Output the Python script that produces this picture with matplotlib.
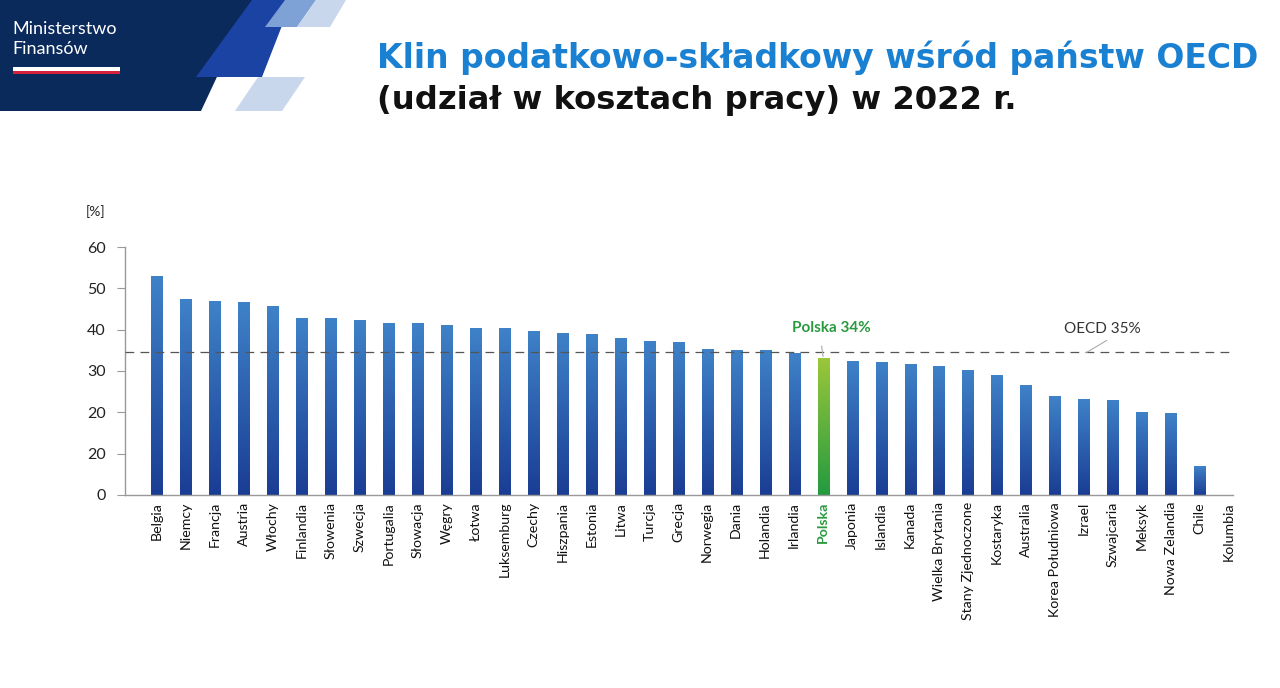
import numpy as np
import matplotlib
matplotlib.use("Agg")
import matplotlib.pyplot as plt
from matplotlib.patches import Polygon
from matplotlib.colors import LinearSegmentedColormap

countries = ["Belgia", "Niemcy", "Francja", "Austria", "Włochy", "Finlandia", "Słowenia",
             "Szwecja", "Portugalia", "Słowacja", "Węgry", "Łotwa", "Luksemburg", "Czechy",
             "Hiszpania", "Estonia", "Litwa", "Turcja", "Grecja", "Norwegia", "Dania",
             "Holandia", "Irlandia", "Polska", "Japonia", "Islandia", "Kanada",
             "Wielka Brytania", "Stany Zjednoczone", "Kostaryka", "Australia",
             "Korea Południowa", "Izrael", "Szwajcaria", "Meksyk", "Nowa Zelandia",
             "Chile", "Kolumbia"]
wedge = [52.9, 47.5, 46.9, 46.6, 45.7, 42.9, 42.8, 42.3, 41.7, 41.6, 41.1, 40.4, 40.3,
         39.7, 39.3, 38.9, 38.1, 37.3, 37.0, 35.4, 35.1, 35.1, 34.3, 33.2, 32.3, 32.2,
         31.7, 31.3, 30.2, 29.0, 26.6, 23.9, 23.2, 23.1, 20.2, 19.8, 6.9, 0.0]
oecd_avg = 34.5
yticks = [0, 10, 20, 30, 40, 50, 60]
ytick_labels = ["0", "20", "20", "30", "40", "50", "60"]  # as printed in the source

W, H = 1280, 688
fig = plt.figure(figsize=(W / 100, H / 100), dpi=100)
plt.rcParams['font.family'] = ['Lato', 'DejaVu Sans']


def px(x, y):
    return (x / W, 1 - y / H)


# header shapes
shapes = [
    ([(0, 0), (253, 0), (201, 111), (0, 111)], "#0b2a5c"),
    ([(252, 0), (292, 0), (262, 77), (196, 77)], "#1b43a3"),
    ([(285, 0), (316, 0), (297, 27), (265, 27)], "#7ea2d5"),
    ([(316, 0), (346, 0), (330, 27), (297, 27)], "#c9d7ed"),
    ([(258, 77), (305, 77), (282, 111), (235, 111)], "#c9d7ed"),
]
for pts, col in shapes:
    fig.add_artist(Polygon([px(*p) for p in pts], closed=True, transform=fig.transFigure,
                           facecolor=col, edgecolor="none"))
fig.add_artist(Polygon([px(13, 67), px(120, 67), px(120, 70.5), px(13, 70.5)],
                       transform=fig.transFigure, facecolor="white", edgecolor="none"))
fig.add_artist(Polygon([px(13, 70.5), px(120, 70.5), px(120, 74), px(13, 74)],
                       transform=fig.transFigure, facecolor="#d4213d", edgecolor="none"))
fig.text(*px(12, 29), "Ministerstwo", color="white", fontsize=13, va="center")
fig.text(*px(12, 49), "Finansów", color="white", fontsize=13, va="center")

fig.text(*px(377, 58), "Klin podatkowo-składkowy wśród państw OECD", color="#1a80d2",
         fontsize=23.8, fontweight="bold", va="center", family=["DejaVu Sans"])
fig.text(*px(377, 101), "(udział w kosztach pracy) w 2022 r.", color="#111111",
         fontsize=23.2, fontweight="bold", va="center", family=["DejaVu Sans"])

# chart
l, b = px(125, 495)
r, t = px(1233, 247)
ax = fig.add_axes([l, b, r - l, t - b])
x = np.arange(len(countries))
bars = ax.bar(x, wedge, width=0.38, color="none", edgecolor="none", zorder=2)

blue = LinearSegmentedColormap.from_list("blue", ["#1a3d94", "#3f82c8"])
green = LinearSegmentedColormap.from_list("green", ["#239a40", "#9cc73a"])
grad = np.linspace(0, 1, 256).reshape(-1, 1)
for name, bar in zip(countries, bars):
    h = bar.get_height()
    if h <= 0:
        continue
    cmap = green if name == "Polska" else blue
    img = ax.imshow(grad, cmap=cmap, origin="lower", aspect="auto", zorder=2,
                    extent=[bar.get_x(), bar.get_x() + bar.get_width(), 0, h])
    img.set_clip_path(bar)

ax.axhline(oecd_avg, color="#555555", lw=0.9, dashes=(7, 5), zorder=3)

ax.set_xlim(-1.1, len(countries) - 0.85)
ax.set_ylim(0, 60)
ax.set_yticks(yticks)
ax.set_yticklabels(ytick_labels, fontsize=11.5, color="#222222")
ax.set_xticks(x)
ax.set_xticklabels(countries, rotation=90, fontsize=10.2, color="#111111")
for lab in ax.get_xticklabels():
    if lab.get_text() == "Polska":
        lab.set_color("#2a9a3f")
        lab.set_fontweight("bold")
ax.tick_params(axis="x", length=0, pad=5)
ax.tick_params(axis="y", length=6, color="#999999", pad=8)
for s in ["top", "right"]:
    ax.spines[s].set_visible(False)
for s in ["left", "bottom"]:
    ax.spines[s].set_color("#999999")
    ax.spines[s].set_linewidth(1)

ax.text(-2.1, 68.6, "[%]", fontsize=10, color="#222222", ha="center", va="center",
        clip_on=False)

ip = countries.index("Polska")
ax.annotate("Polska 34%", xy=(ip, wedge[ip] + 0.3), xytext=(ip + 0.3, 40.4),
            ha="center", va="center", fontsize=11, fontweight="bold", color="#2a9a3f",
            arrowprops=dict(arrowstyle="-", color="#aaaaaa", lw=0.8,
                            shrinkA=6, shrinkB=0, relpos=(0.35, 0)))
ax.text(32.65, 40.1, "OECD 35%", ha="center", va="center", fontsize=11, color="#333333")
ax.plot([32.1, 32.79], [oecd_avg, 37.4], color="#aaaaaa", lw=0.8, zorder=3)

fig.savefig("out.png", dpi=100)
